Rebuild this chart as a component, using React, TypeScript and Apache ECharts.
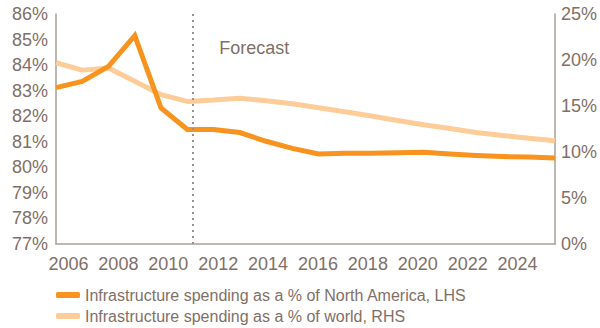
import React, { useEffect, useRef } from "react";
import * as echarts from "echarts";

// Axis label categories (every other year is shown)
const years = [
  "2006", "2007", "2008", "2009", "2010", "2011", "2012", "2013", "2014", "2015",
  "2016", "2017", "2018", "2019", "2020", "2021", "2022", "2023", "2024", "2025",
];

// Data points, spread edge to edge across the plot
const pointKeys = years.map((y) => "p" + y);

// Infrastructure spending as a % of North America (left axis, %)
const northAmerica = [
  83.12, 83.36, 83.95, 85.15, 82.32, 81.48, 81.48, 81.36, 81.02, 80.74,
  80.52, 80.55, 80.55, 80.57, 80.59, 80.52, 80.46, 80.42, 80.4, 80.37,
];

// Infrastructure spending as a % of world (right axis, %)
const world = [
  19.7, 18.9, 19.14, 17.7, 16.23, 15.5, 15.65, 15.85, 15.58, 15.25,
  14.8, 14.38, 13.92, 13.42, 12.96, 12.55, 12.12, 11.8, 11.5, 11.22,
];

const forecastStart = "2011";

const leftTicks = { min: 77, max: 86, interval: 1 };
const rightTicks = { min: 0, max: 25, interval: 5 };

const nameNA = "Infrastructure spending as a % of North America, LHS";
const nameWorld = "Infrastructure spending as a % of world, RHS";

const ORANGE = "#f7931e";
const LIGHT = "#fdcc98";
const TEXT = "#7f7067";
const AXIS = "#a99f97";
const FONT = "'Liberation Sans', Arial, sans-serif";

export default function App() {
  const ref = useRef<HTMLDivElement>(null);

  useEffect(() => {
    if (!ref.current) return;
    const chart = echarts.init(ref.current, null, { renderer: "svg" });
    const axisLabel = { color: TEXT, fontSize: 18, fontFamily: FONT };
    const legendBase = {
      orient: "horizontal",
      left: 51,
      itemWidth: 24,
      itemHeight: 6,
      textStyle: { color: TEXT, fontSize: 16, fontFamily: FONT },
    };
    chart.setOption({
      animation: false,
      textStyle: { fontFamily: FONT },
      grid: { left: 56, right: 45, top: 14, bottom: 84 },
      legend: [
        {
          ...legendBase,
          top: 282,
          data: [{ name: nameNA, icon: "roundRect", itemStyle: { color: ORANGE } }],
        },
        {
          ...legendBase,
          top: 303,
          data: [{ name: nameWorld, icon: "roundRect", itemStyle: { color: LIGHT } }],
        },
      ],
      xAxis: [
        {
          type: "category",
          data: years,
          boundaryGap: true,
          axisLine: { lineStyle: { color: AXIS, width: 1.5 } },
          axisTick: { show: false },
          axisLabel: { ...axisLabel, interval: 1, margin: 11 },
        },
        {
          type: "category",
          data: pointKeys,
          boundaryGap: false,
          show: false,
        },
      ],
      yAxis: [
        {
          type: "value",
          position: "left",
          ...leftTicks,
          splitLine: { show: false },
          axisLine: { show: true, lineStyle: { color: AXIS, width: 1.5 } },
          axisTick: { show: false },
          axisLabel: { ...axisLabel, margin: 8, formatter: "{value}%" },
        },
        {
          type: "value",
          position: "right",
          ...rightTicks,
          splitLine: { show: false },
          axisLine: { show: true, lineStyle: { color: AXIS, width: 1.5 } },
          axisTick: { show: false },
          axisLabel: { ...axisLabel, margin: 6, formatter: "{value}%" },
        },
      ],
      series: [
        {
          name: "forecast",
          type: "line",
          xAxisIndex: 0,
          yAxisIndex: 0,
          data: [],
          silent: true,
          markLine: {
            symbol: "none",
            silent: true,
            label: {
              show: true,
              position: "end",
              formatter: "Forecast",
              color: TEXT,
              fontSize: 18,
              fontFamily: FONT,
              align: "left",
              offset: [26, 48],
            },
            lineStyle: { color: "#9a918a", type: [2, 4], width: 2 },
            data: [{ xAxis: forecastStart }],
          },
        },
        {
          name: nameWorld,
          type: "line",
          xAxisIndex: 1,
          yAxisIndex: 1,
          data: world,
          symbol: "none",
          lineStyle: { color: LIGHT, width: 5 },
          itemStyle: { color: LIGHT },
          z: 2,
        },
        {
          name: nameNA,
          type: "line",
          xAxisIndex: 1,
          yAxisIndex: 0,
          data: northAmerica,
          symbol: "none",
          lineStyle: { color: ORANGE, width: 5, join: "miter" },
          itemStyle: { color: ORANGE },
          z: 3,
        },
      ],
    });
    return () => chart.dispose();
  }, []);

  return (
    <div
      ref={ref}
      style={{ position: "absolute", left: 0, top: 0, width: 600, height: 328 }}
    />
  );
}
